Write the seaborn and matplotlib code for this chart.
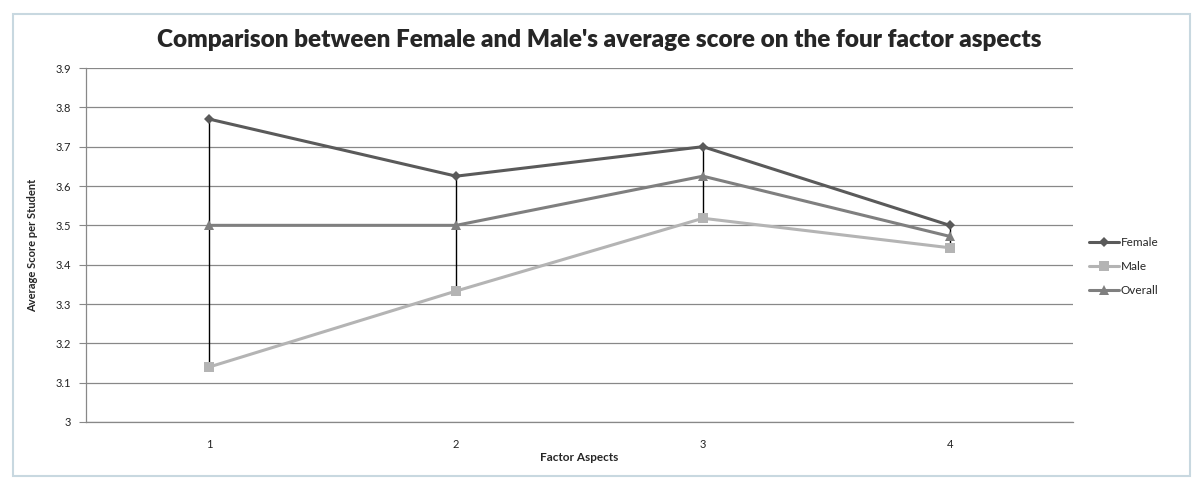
import pandas as pd
import numpy as np
import matplotlib.pyplot as plt
import seaborn as sns
from matplotlib.patches import Rectangle

# Values
aspects = [1, 2, 3, 4]
female = [3.77, 3.625, 3.70, 3.50]
male = [3.14, 3.333, 3.518, 3.443]
overall = [3.50, 3.50, 3.625, 3.472]

df = pd.DataFrame({
    'Factor Aspects': aspects * 3,
    'Score': female + male + overall,
    'Group': ['Female'] * 4 + ['Male'] * 4 + ['Overall'] * 4,
})

sns.set_style("white")
plt.rcParams['font.family'] = ['Lato', 'DejaVu Sans']

fig = plt.figure(figsize=(11.98, 4.79), dpi=100)
ax = fig.add_axes([0.0718, 0.119, 0.8239, 0.739])

# High-low lines between the series at each aspect
hi = np.maximum.reduce([female, male, overall])
lo = np.minimum.reduce([female, male, overall])
ax.vlines(aspects, lo, hi, color='black', linewidth=1.0, zorder=2)

palette = {'Female': '#5a5a5a', 'Male': '#b4b4b4', 'Overall': '#7f7f7f'}
markers = {'Female': 'D', 'Male': 's', 'Overall': '^'}
sns.lineplot(data=df, x='Factor Aspects', y='Score', hue='Group', style='Group',
             palette=palette, markers=markers, dashes=False, linewidth=2.2,
             markersize=7, markeredgewidth=0, ax=ax, zorder=3)
# make diamond smaller like the reference
for line in ax.lines:
    if line.get_marker() == 'D':
        line.set_markersize(5)

ax.set_xlim(0.5, 4.5)
ax.set_ylim(3.0, 3.9)
ax.set_xticks(aspects)
ax.set_yticks(np.round(np.arange(3.0, 3.91, 0.1), 1))
ax.set_yticklabels(['3', '3.1', '3.2', '3.3', '3.4', '3.5', '3.6', '3.7', '3.8', '3.9'])
ax.tick_params(axis='y', length=5, color='#888888', labelsize=8, pad=6, left=True,
               labelcolor='#222222')
ax.tick_params(axis='x', length=0, labelsize=8, pad=12, labelcolor='#222222')
ax.yaxis.grid(True, color='#888888', linewidth=0.9)
ax.set_axisbelow(True)
for side in ['top', 'right']:
    ax.spines[side].set_visible(False)
for side in ['left', 'bottom']:
    ax.spines[side].set_color('#888888')
    ax.spines[side].set_linewidth(0.9)

ax.set_xlabel('Factor Aspects', fontsize=8.5, fontweight='bold', labelpad=2)
ax.set_ylabel('Average Score per Student', fontsize=8, fontweight='bold', labelpad=12)
fig.suptitle("Comparison between Female and Male's average score on the four factor aspects",
             x=0.5, y=0.94, fontsize=17.5, fontweight='heavy')

ax.legend(title=None, frameon=False, loc='center left', bbox_to_anchor=(1.005, 0.44),
          fontsize=8.5, handlelength=2.6, handletextpad=0.1, labelspacing=1.1)

# chart frame like the spreadsheet chart area
fig.patches.append(Rectangle((0.011, 0.006), 0.982, 0.964, transform=fig.transFigure,
                             fill=False, edgecolor='#c8d8e0', linewidth=1.5))

fig.savefig('out.png', dpi=100)
